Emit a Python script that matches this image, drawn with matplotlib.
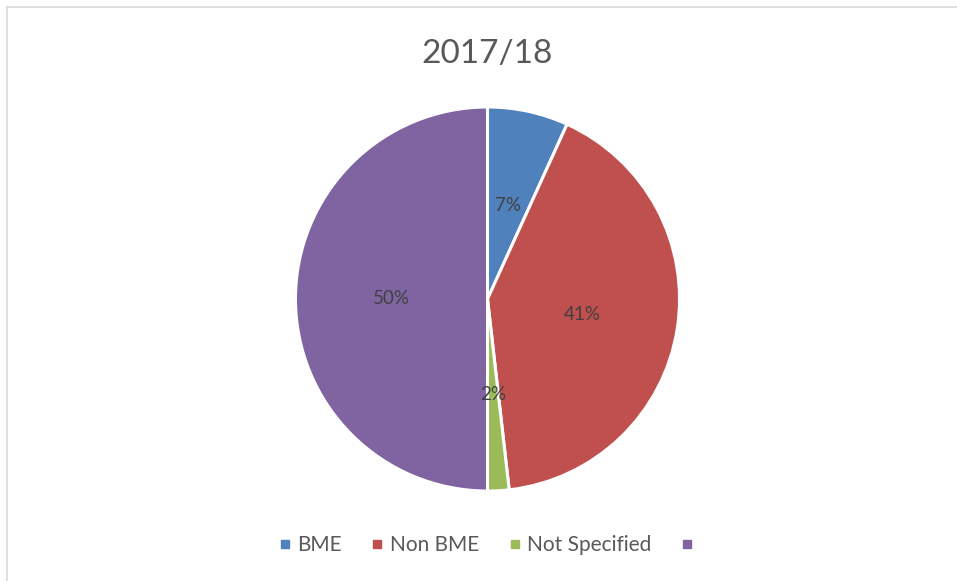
import matplotlib.pyplot as plt
from matplotlib.lines import Line2D

# data
labels = ['BME', 'Non BME', 'Not Specified', '']
values = [6.8, 41.4, 1.8, 50.0]
colors = ['#4F81BD', '#C0504D', '#9BBB59', '#8064A2']
title = '2017/18'

plt.rcParams['font.family'] = ['Lato', 'DejaVu Sans']

fig = plt.figure(figsize=(9.57, 5.81), dpi=100)

# thin grey frame (only left/top visible in the original)
fig.add_artist(Line2D([6.5 / 957, 6.5 / 957], [0, 1 - 7 / 581], color='#D9D9D9', lw=1.2))
fig.add_artist(Line2D([6.5 / 957, 1], [1 - 7 / 581, 1 - 7 / 581], color='#D9D9D9', lw=1.2))

r = 193
cx, cy = 487.5, 299
ax = fig.add_axes([(cx - r) / 957, 1 - (cy + r) / 581, 2 * r / 957, 2 * r / 581])
wedges, texts, autotexts = ax.pie(
    values, colors=colors, startangle=90, counterclock=False,
    autopct=lambda p: f'{p:.0f}%', pctdistance=0.5,
    wedgeprops=dict(edgecolor='white', linewidth=2.2),
    textprops=dict(color='#404040', fontsize=13.5))
ax.set_xlim(-1.005, 1.005)
ax.set_ylim(-1.005, 1.005)
ax.set_aspect('equal')

fig.text(487 / 957, 1 - 54 / 581, title, ha='center', va='center',
         fontsize=24, color='#595959')

handles = [Line2D([], [], marker='s', linestyle='none', markersize=6,
                  markerfacecolor=c, markeredgecolor=c) for c in colors]
fig.legend(handles, labels, loc='center', bbox_to_anchor=(489 / 957, 1 - 545 / 581),
           ncol=4, frameon=False, fontsize=15, handlelength=0.6,
           handletextpad=0.3, columnspacing=1.4, labelcolor='#595959')

fig.savefig('out.png', dpi=100)
